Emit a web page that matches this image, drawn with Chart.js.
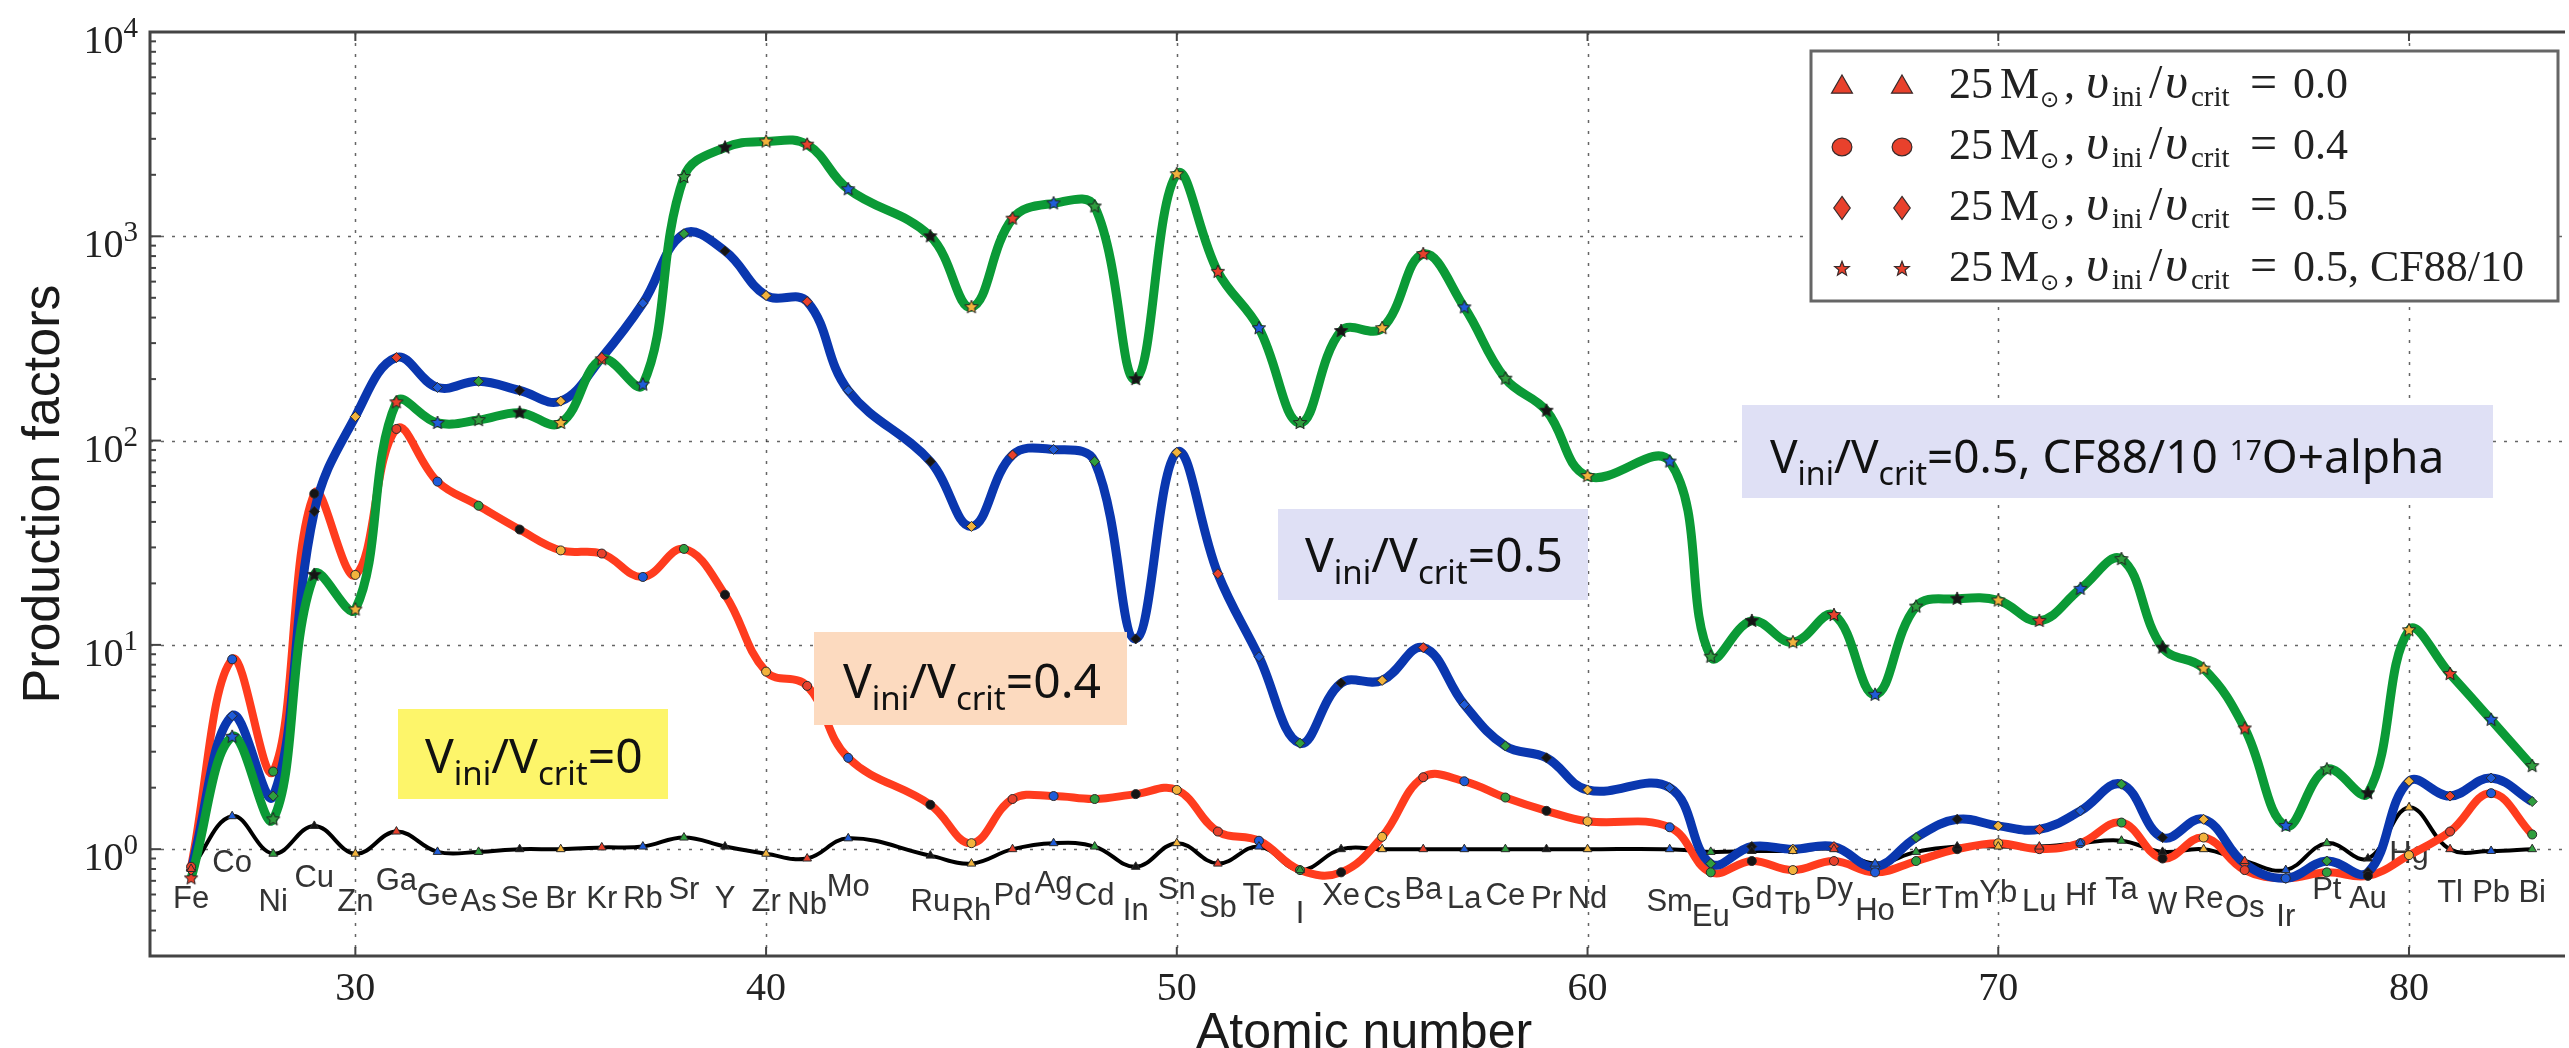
<!DOCTYPE html>
<html>
<head>
<meta charset="utf-8">
<title>Production factors</title>
<script src="https://cdn.jsdelivr.net/npm/chart.js@4.4.1/dist/chart.umd.min.js"></script>
<style>
  html, body { margin: 0; padding: 0; background: #fff; }
  #wrap { position: relative; width: 2569px; height: 1048px; overflow: hidden; }
</style>
</head>
<body>
<div id="wrap"><canvas id="pf" width="2569" height="1048"></canvas></div>
<script>
// element symbols and their atomic numbers (Tc and Pm are not in the set)
const elements = ['Fe','Co','Ni','Cu','Zn','Ga','Ge','As','Se','Br','Kr','Rb','Sr','Y','Zr','Nb','Mo',
  'Ru','Rh','Pd','Ag','Cd','In','Sn','Sb','Te','I','Xe','Cs','Ba','La','Ce','Pr','Nd',
  'Sm','Eu','Gd','Tb','Dy','Ho','Er','Tm','Yb','Lu','Hf','Ta','W','Re','Os','Ir','Pt','Au','Hg','Tl','Pb','Bi'];
const atomicNumber = [26,27,28,29,30,31,32,33,34,35,36,37,38,39,40,41,42,
  44,45,46,47,48,49,50,51,52,53,54,55,56,57,58,59,60,
  62,63,64,65,66,67,68,69,70,71,72,73,74,75,76,77,78,79,80,81,82,83];

// production factors, 25 Msun models
const pfRot00 = [0.8,1.45,0.95,1.3,0.95,1.22,0.97,0.97,1.0,1.0,1.02,1.03,1.14,1.03,0.95,0.9,1.13,
  0.93,0.85,1.0,1.07,1.03,0.82,1.07,0.85,1.03,0.79,1.0,1.0,1.0,1.0,1.0,1.0,1.0,
  1.0,0.97,0.98,0.98,1.0,0.85,0.97,1.03,1.03,1.03,1.07,1.1,0.97,1.0,0.875,0.79,1.07,0.9,1.6,1.0,0.98,1.0];
const pfRot04 = [0.82,8.5,2.4,55,22,114,63,48,36.7,29,28,21.5,29.5,17.6,7.4,6.3,2.8,
  1.65,1.07,1.76,1.82,1.76,1.86,1.95,1.22,1.1,0.79,0.77,1.15,2.25,2.15,1.79,1.54,1.37,
  1.28,0.77,0.875,0.79,0.875,0.77,0.875,1.0,1.07,1.0,1.07,1.35,0.9,1.14,0.79,0.72,0.77,0.74,0.935,1.22,1.88,1.18];
const pfRot05 = [0.79,4.5,1.82,45,131,255,182,195,176,156,255,470,1030,847,513,479,176,
  79,38,85,90.5,79,10.7,87.5,22.3,8.75,3.3,6.5,6.7,9.7,5.1,3.2,2.8,1.95,
  2.0,0.85,1.03,1.0,1.03,0.82,1.14,1.4,1.3,1.25,1.54,2.08,1.14,1.4,0.85,0.72,0.875,0.77,2.15,1.82,2.23,1.71];
const pfRot05CF = [0.72,3.55,1.4,22,14.9,154,122,126,137,122,250,188,1950,2720,2910,2810,1700,
  1000,450,1220,1450,1400,200,2015,670,355,122,344,355,818,449,201,140,67,
  79,8.75,13.1,10.3,14.0,5.7,15.4,16.8,16.5,13.1,18.8,26.3,9.7,7.65,3.9,1.3,2.46,1.88,11.8,7.2,4.3,2.55];

// height (in production-factor units) where each symbol is written
const symbolY = [0.566,0.851,0.55,0.716,0.55,0.695,0.586,0.55,0.566,0.566,0.566,0.566,0.631,0.566,0.55,0.531,0.646,
  0.55,0.495,0.586,0.67,0.586,0.495,0.631,0.513,0.586,0.479,0.586,0.566,0.631,0.566,0.586,0.566,0.566,
  0.55,0.463,0.566,0.531,0.631,0.495,0.586,0.566,0.605,0.55,0.586,0.631,0.531,0.566,0.513,0.463,0.631,0.566,0.94,0.605,0.605,0.605];

const xTicks = [30, 40, 50, 60, 70, 80];
const yExponents = [0, 1, 2, 3, 4];
const legendTails = ['0.0', '0.4', '0.5', '0.5, CF88/10'];

const SERIF = '"Liberation Serif", "DejaVu Serif", serif';
const SANS = '"Liberation Sans", Arial, sans-serif';
const TAG = '"Noto Sans", "DejaVu Sans", sans-serif';

// marker colour cycles with Z mod 5
const markerColors = ['#f2b33d', '#e8412c', '#1f5cd8', '#2f9e3e', '#151515'];
const pointColors = atomicNumber.map(z => markerColors[z % 5]);

function starImage(fill, r) {
  const c = document.createElement('canvas');
  const s = Math.ceil(r * 2 + 4);
  c.width = c.height = s;
  const g = c.getContext('2d');
  g.beginPath();
  for (let i = 0; i < 10; i++) {
    const rr = i % 2 ? r * 0.45 : r;
    const a = -Math.PI / 2 + i * Math.PI / 5;
    g.lineTo(s / 2 + rr * Math.cos(a), s / 2 + rr * Math.sin(a));
  }
  g.closePath();
  g.fillStyle = fill; g.fill();
  g.strokeStyle = '#222'; g.lineWidth = 1; g.stroke();
  return c;
}
const stars = atomicNumber.map(z => starImage(markerColors[z % 5], 7));

const toPoints = vals => atomicNumber.map((z, i) => ({ x: z, y: vals[i] }));

function lineSet(vals, color, width, order) {
  return {
    data: toPoints(vals), borderColor: color, borderWidth: width,
    pointRadius: 0, fill: false, tension: 0.4, order: order
  };
}
function markerSet(vals, style, radius, order) {
  return {
    data: toPoints(vals), showLine: false, pointStyle: style, pointRadius: radius,
    pointBackgroundColor: pointColors, pointBorderColor: '#2a2a2a', pointBorderWidth: 1, order: order
  };
}

const datasets = [
  markerSet(pfRot00, 'triangle', 5, 0),
  markerSet(pfRot04, 'circle', 4.5, 0),
  markerSet(pfRot05, 'rectRot', 5, 0),
  markerSet(pfRot05CF, stars, 5, 0),
  lineSet(pfRot00, '#000000', 4, 4),
  lineSet(pfRot04, '#ff3c1e', 8, 3),
  lineSet(pfRot05, '#0a37af', 9, 2),
  lineSet(pfRot05CF, '#0b9a36', 9, 1)
];

function drawRuns(ctx, x, y, runs) {
  for (const r of runs) {
    ctx.font = r.font;
    ctx.fillText(r.t, x, y + (r.dy || 0));
    x += ctx.measureText(r.t).width;
  }
  return x;
}

function drawMarker(ctx, shape, cx, cy, r, fill) {
  ctx.beginPath();
  if (shape === 'triangle') {
    ctx.moveTo(cx, cy - r); ctx.lineTo(cx + r * 0.95, cy + r * 0.65); ctx.lineTo(cx - r * 0.95, cy + r * 0.65);
  } else if (shape === 'circle') {
    ctx.ellipse(cx, cy, r * 0.9, r * 0.8, 0, 0, Math.PI * 2);
  } else if (shape === 'diamond') {
    ctx.moveTo(cx, cy - r * 1.05); ctx.lineTo(cx + r * 0.75, cy); ctx.lineTo(cx, cy + r * 1.05); ctx.lineTo(cx - r * 0.75, cy);
  } else {
    for (let i = 0; i < 10; i++) {
      const rr = i % 2 ? r * 0.3 : r * 0.7;
      const a = -Math.PI / 2 + i * Math.PI / 5;
      ctx.lineTo(cx + rr * Math.cos(a), cy + rr * Math.sin(a));
    }
  }
  ctx.closePath();
  ctx.fillStyle = fill; ctx.fill();
  ctx.strokeStyle = '#3a2a2a'; ctx.lineWidth = 1.2; ctx.stroke();
}

function tagRuns(size, tail, extra) {
  const sub = Math.round(size * 0.69);
  const runs = [
    { t: 'V', font: `${size}px ${TAG}` },
    { t: 'ini', font: `${sub}px ${TAG}`, dy: 12 },
    { t: '/V', font: `${size}px ${TAG}` },
    { t: 'crit', font: `${sub}px ${TAG}`, dy: 12 },
    { t: tail, font: `${size}px ${TAG}` }
  ];
  return extra ? runs.concat(extra) : runs;
}

// legend label, mathtext style: each piece set at its own x
function legendPieces(tail) {
  const m = `44px ${SERIF}`, it = `italic 50px ${SERIF}`, sb = `29px ${SERIF}`;
  return [
    { t: '25', x: 1949, font: m },
    { t: 'M', x: 2000, font: m },
    { t: '\u2299', x: 2040, font: '23px "DejaVu Sans"', dy: 9 },
    { t: ',', x: 2064, font: m },
    { t: '\u03c5', x: 2086, font: it },
    { t: 'ini', x: 2112, font: sb, dy: 8 },
    { t: '/', x: 2149, font: `48px ${SERIF}` },
    { t: '\u03c5', x: 2165, font: it },
    { t: 'crit', x: 2191, font: sb, dy: 8 },
    { t: '=', x: 2250, font: `48px ${SERIF}` },
    { t: tail, x: 2293, font: m }
  ];
}

const frame = {
  id: 'frame',
  beforeDatasetsDraw(chart) {
    const { ctx, chartArea: a, scales: { x, y } } = chart;
    ctx.save();
    // dotted grid
    ctx.strokeStyle = 'rgba(50,50,50,0.75)';
    ctx.lineWidth = 1.5;
    ctx.setLineDash([3, 8]);
    xTicks.forEach(v => {
      const px = Math.round(x.getPixelForValue(v)) + 0.5;
      ctx.beginPath(); ctx.moveTo(px, a.top); ctx.lineTo(px, a.bottom); ctx.stroke();
    });
    yExponents.slice(0, 4).forEach(e => {
      const py = Math.round(y.getPixelForValue(Math.pow(10, e))) + 0.5;
      ctx.beginPath(); ctx.moveTo(a.left, py); ctx.lineTo(a.right, py); ctx.stroke();
    });
    ctx.setLineDash([]);
    // element symbols
    ctx.fillStyle = '#333';
    ctx.font = `31px ${SANS}`;
    ctx.textAlign = 'center';
    ctx.textBaseline = 'middle';
    elements.forEach((s, i) => {
      ctx.fillText(s, x.getPixelForValue(atomicNumber[i]), y.getPixelForValue(symbolY[i]));
    });
    ctx.restore();
  },
  afterDatasetsDraw(chart) {
    const { ctx, chartArea: a, scales: { x, y } } = chart;
    ctx.save();
    // spines
    ctx.strokeStyle = '#444';
    ctx.lineWidth = 3;
    ctx.beginPath();
    ctx.moveTo(a.right + 2, a.top); ctx.lineTo(a.left, a.top);
    ctx.lineTo(a.left, a.bottom); ctx.lineTo(a.right + 2, a.bottom);
    ctx.stroke();
    // ticks
    ctx.lineWidth = 2;
    xTicks.forEach(v => {
      const px = x.getPixelForValue(v);
      ctx.beginPath();
      ctx.moveTo(px, a.bottom); ctx.lineTo(px, a.bottom - 9);
      ctx.moveTo(px, a.top); ctx.lineTo(px, a.top + 9);
      ctx.stroke();
    });
    yExponents.forEach(e => {
      for (let m = 1; m <= 9; m++) {
        const v = m * Math.pow(10, e - 1);
        if (v < y.min || v > y.max) continue;
        const py = y.getPixelForValue(v);
        ctx.beginPath(); ctx.moveTo(a.left, py); ctx.lineTo(a.left + (m === 1 ? 11 : 6), py); ctx.stroke();
      }
    });
    // tick labels
    ctx.fillStyle = '#222';
    ctx.textBaseline = 'alphabetic';
    ctx.textAlign = 'center';
    ctx.font = `40px ${SERIF}`;
    xTicks.forEach(v => ctx.fillText(String(v), x.getPixelForValue(v), a.bottom + 44));
    ctx.textAlign = 'left';
    yExponents.forEach(e => {
      const py = y.getPixelForValue(Math.pow(10, e));
      ctx.font = `40px ${SERIF}`;
      const w10 = ctx.measureText('10').width;
      ctx.font = `29px ${SERIF}`;
      const we = ctx.measureText(String(e)).width;
      const x0 = a.left - 12 - w10 - we;
      drawRuns(ctx, x0, py + 21, [
        { t: '10', font: `40px ${SERIF}` },
        { t: String(e), font: `29px ${SERIF}`, dy: -16 }
      ]);
    });
    // axis titles
    ctx.fillStyle = '#1a1a1a';
    ctx.font = `50px ${SANS}`;
    ctx.textAlign = 'center';
    ctx.fillText('Atomic number', 1364, 1048);
    ctx.save();
    ctx.translate(59, 494);
    ctx.rotate(-Math.PI / 2);
    ctx.font = `52px ${SANS}`;
    ctx.fillText('Production factors', 0, 0);
    ctx.restore();

    // coloured tags
    ctx.textAlign = 'left';
    const tags = [
      { box: [398, 709, 270, 90], fill: '#fdf56a', tx: 425, ty: 773, runs: tagRuns(48, '=0') },
      { box: [814, 632, 313, 93], fill: '#fcdabf', tx: 843, ty: 698, runs: tagRuns(48, '=0.4') },
      { box: [1278, 509, 310, 91], fill: '#dfe0f5', tx: 1305, ty: 572, runs: tagRuns(48, '=0.5') },
      { box: [1742, 405, 751, 93], fill: '#dfe0f5', tx: 1770, ty: 473, runs: tagRuns(46, '=0.5, CF88/10 ', [
          { t: '17', font: `28px ${TAG}`, dy: -13 },
          { t: 'O+alpha', font: `46px ${TAG}` }
        ]) }
    ];
    tags.forEach(t => {
      ctx.fillStyle = t.fill;
      ctx.fillRect(t.box[0], t.box[1], t.box[2], t.box[3]);
      ctx.fillStyle = '#111';
      drawRuns(ctx, t.tx, t.ty, t.runs);
    });

    // legend
    ctx.fillStyle = '#fff';
    ctx.fillRect(1811, 51, 747, 250);
    ctx.strokeStyle = '#666';
    ctx.lineWidth = 3;
    ctx.strokeRect(1811, 51, 747, 250);
    const shapes = ['triangle', 'circle', 'diamond', 'star'];
    legendTails.forEach((tail, i) => {
      const cy = 86 + i * 61;
      drawMarker(ctx, shapes[i], 1842, cy, 11, '#e8412c');
      drawMarker(ctx, shapes[i], 1902, cy, 11, '#e8412c');
      ctx.fillStyle = '#222';
      legendPieces(tail).forEach(p => {
        ctx.font = p.font;
        ctx.fillText(p.t, p.x, cy + 12 + (p.dy || 0));
      });
    });
    ctx.restore();
  }
};

new Chart(document.getElementById('pf').getContext('2d'), {
  type: 'line',
  data: { datasets: datasets },
  options: {
    responsive: false,
    animation: false,
    devicePixelRatio: 1,
    layout: { padding: { left: 150, top: 32, right: 0, bottom: 92 } },
    scales: {
      x: { type: 'linear', min: 25, max: 83.75, display: false },
      y: { type: 'logarithmic', min: 0.3, max: 10000, display: false }
    },
    plugins: { legend: { display: false }, tooltip: { enabled: false } }
  },
  plugins: [frame]
});
</script>
</body>
</html>
